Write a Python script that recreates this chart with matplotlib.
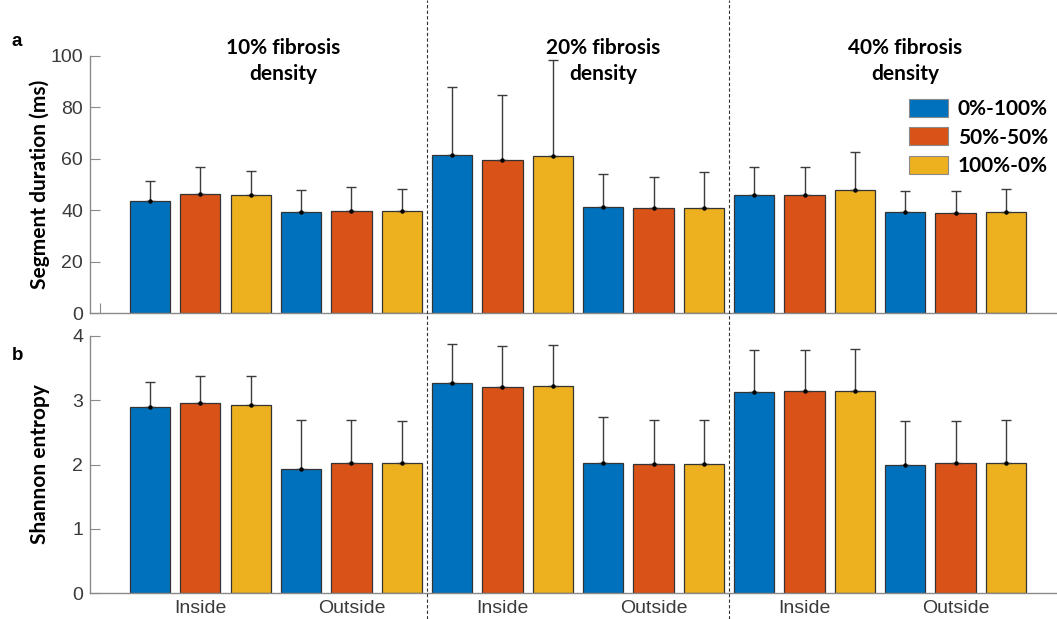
import matplotlib.pyplot as plt
import matplotlib.transforms as mtransforms
from matplotlib.lines import Line2D
from matplotlib.patches import Patch
import numpy as np

# ---- data ----
groups = ['Inside', 'Outside']
densities = ['10% fibrosis\ndensity', '20% fibrosis\ndensity', '40% fibrosis\ndensity']
series = ['0%-100%', '50%-50%', '100%-0%']
colors = ['#0072BD', '#D95319', '#EDB120']

# segment duration (ms), order: density -> Inside/Outside -> series
dur_mean = [43.7, 46.3, 45.8, 39.4, 39.8, 39.7,
            61.6, 59.7, 61.2, 41.1, 40.7, 40.7,
            45.8, 45.9, 48.0, 39.2, 39.0, 39.4]
dur_top = [51.4, 56.8, 55.4, 47.7, 48.9, 48.1,
           88.1, 84.9, 98.4, 54.2, 53.0, 55.0,
           56.9, 56.9, 62.6, 47.6, 47.6, 48.2]

# shannon entropy
ent_mean = [2.89, 2.95, 2.93, 1.93, 2.03, 2.02,
            3.27, 3.21, 3.22, 2.03, 2.01, 2.01,
            3.13, 3.14, 3.15, 2.00, 2.02, 2.02]
ent_top = [3.28, 3.37, 3.37, 2.69, 2.69, 2.67,
           3.88, 3.84, 3.86, 2.74, 2.69, 2.69,
           3.78, 3.78, 3.79, 2.67, 2.68, 2.69]

title_x = [3.64, 10.0, 16.0]
divider_x = [6.5, 12.5]

W, H = 1057, 619
fig = plt.figure(figsize=(W / 100, H / 100), dpi=100)

x = np.arange(1, 19)
bar_colors = [colors[i % 3] for i in range(18)]
xlim = (1 - 60 / 50.35, 1 + (W - 150) / 50.35)

ax1 = fig.add_axes([90 / W, 1 - 313 / H, 1 - 90 / W, 257 / H])
ax2 = fig.add_axes([90 / W, 1 - 593 / H, 1 - 90 / W, 257 / H])

boldfont = ['Lato', 'DejaVu Sans']


def draw(ax, mean, top, ylim, yticks, ylabel):
    mean = np.array(mean)
    top = np.array(top)
    ax.bar(x, mean, width=0.8, color=bar_colors, edgecolor='#333333', linewidth=0.9, zorder=2)
    ax.errorbar(x, mean, yerr=[np.zeros_like(mean), top - mean], fmt='o', color='black',
                markersize=2.2, ecolor='#3c3c3c', elinewidth=1.0, capsize=3.5, capthick=1.0, zorder=3)
    ax.set_xlim(*xlim)
    ax.set_ylim(*ylim)
    ax.set_yticks(yticks)
    for s in ['top', 'right']:
        ax.spines[s].set_visible(False)
    for s in ['left', 'bottom']:
        ax.spines[s].set_color('#8a8a8a')
        ax.spines[s].set_linewidth(1.0)
    ax.tick_params(axis='y', direction='in', length=7, color='#8a8a8a', labelcolor='#3a3a3a',
                   labelsize=14, pad=5)
    for lab in ax.get_yticklabels():
        lab.set_family('Liberation Sans')
    ax.set_ylabel(ylabel, fontsize=15, fontweight='bold', family=boldfont)
    ax.yaxis.set_label_coords(-40 / 967, 0.5)
    ax.patch.set_alpha(0)


draw(ax1, dur_mean, dur_top, (0, 100), [0, 20, 40, 60, 80, 100], 'Segment duration (ms)')
draw(ax2, ent_mean, ent_top, (0, 4), [0, 1, 2, 3, 4], 'Shannon entropy')

# top panel: no labels, just the lone tick at 0
ax1.set_xticks([0])
ax1.set_xticklabels([''])
ax1.tick_params(axis='x', direction='in', length=7, color='#8a8a8a')

# bottom panel: Inside / Outside labels
ax2.set_xticks([2, 5, 8, 11, 14, 17])
ax2.set_xticklabels(groups * 3)
ax2.tick_params(axis='x', length=0, labelcolor='#3a3a3a', labelsize=14, pad=5)
for lab in ax2.get_xticklabels():
    lab.set_family('Liberation Sans')

# dashed dividers spanning whole figure
trans = mtransforms.blended_transform_factory(ax1.transData, fig.transFigure)
for dx in divider_x:
    fig.add_artist(Line2D([dx, dx], [0, 1], transform=trans, color='#333333',
                          linestyle=(0, (3, 2)), linewidth=0.8))

# density titles
for tx, t in zip(title_x, densities):
    fig.text(tx, 1 - 61 / H, t, transform=trans, ha='center', va='center', fontsize=15,
             fontweight='bold', family=boldfont, linespacing=1.4)

# panel letters
fig.text(12 / W, 1 - 42 / H, 'a', fontsize=13.5, fontweight='bold', family='Liberation Sans', va='center')
fig.text(12 / W, 1 - 355 / H, 'b', fontsize=13.5, fontweight='bold', family='Liberation Sans', va='center')

# legend
handles = [Patch(facecolor=c, edgecolor='#8a8a8a', linewidth=0.8) for c in colors]
leg = fig.legend(handles, series, loc='upper left', bbox_to_anchor=(909 / W, 1 - 99 / H),
                 frameon=False, borderpad=0, borderaxespad=0, handlelength=1.85, handleheight=0.95,
                 handletextpad=0.5, labelspacing=0.4,
                 prop=dict(family=boldfont, weight='bold', size=15))

fig.savefig('out.png', dpi=100)
